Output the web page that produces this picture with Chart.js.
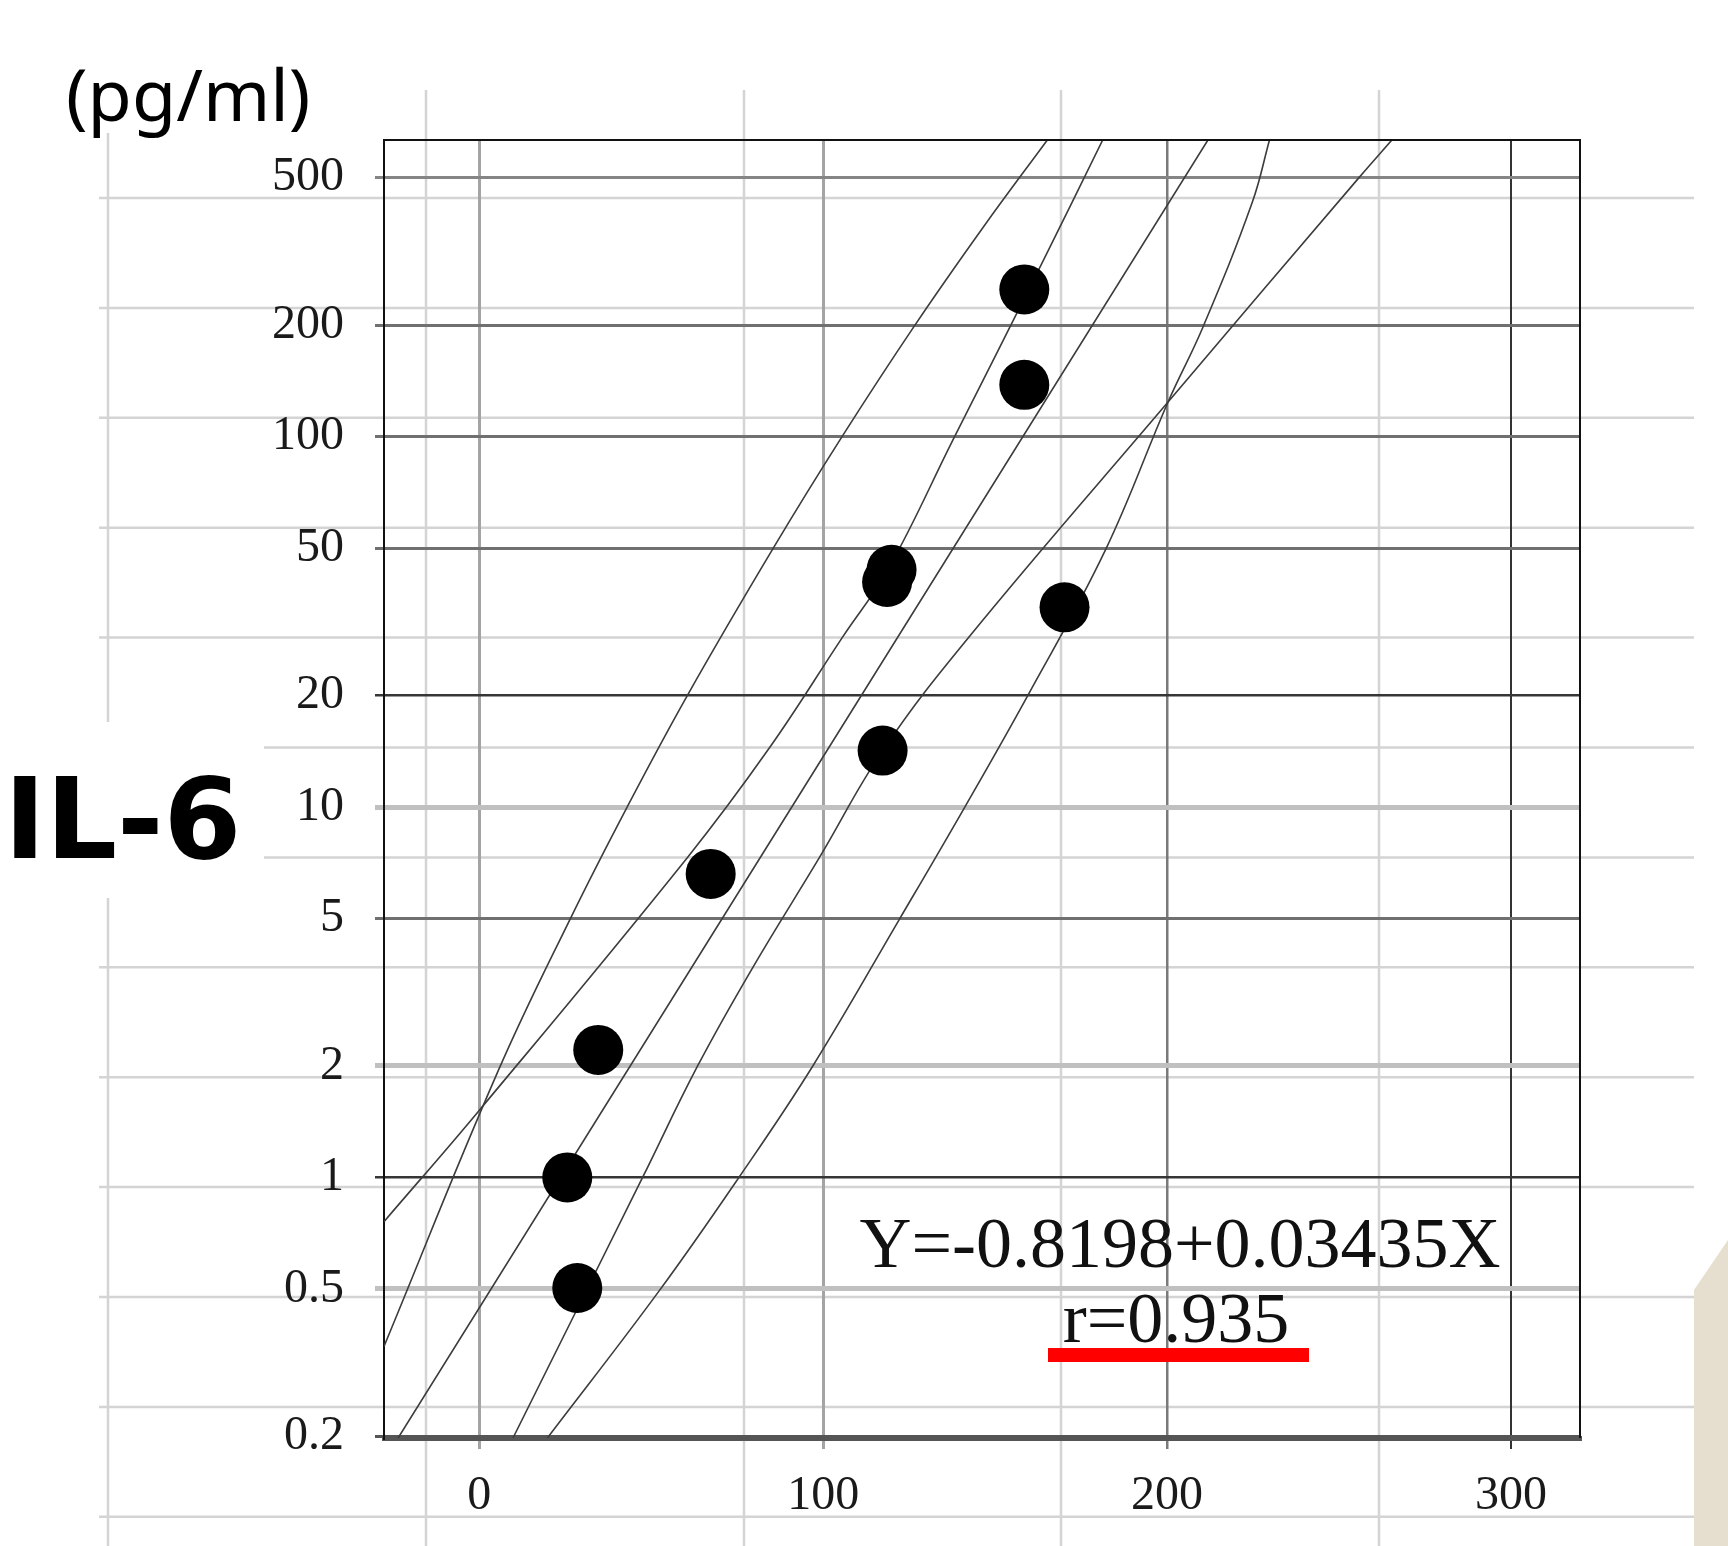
<!DOCTYPE html>
<html>
<head>
<meta charset="utf-8">
<title>IL-6</title>
<script src="https://cdn.jsdelivr.net/npm/chart.js@4.4.1/dist/chart.umd.min.js"></script>
<style>
  html, body { margin: 0; padding: 0; background: #fff; }
  canvas { display: block; }
</style>
</head>
<body>
<canvas id="chart" width="1728" height="1546"></canvas>
<script>
// tick labels
const xTicks = [0, 100, 200, 300];
const yTicks = [0.2, 0.5, 1, 2, 5, 10, 20, 50, 100, 200, 500];

// measured points (x, pg/ml)
const pointX = [158.5, 158.5, 119.9, 118.6, 170.2, 117.3, 67.3, 34.6, 25.6, 28.5];
const pointY = [249.6, 138, 43.7, 40.5, 34.6, 14.2, 6.6, 2.21, 1.0, 0.503];

// regression line, read where it meets the frame
const regX = [-23.6, 211.9];
const regY = [0.198, 632];

// the four band curves, read where they cross the gridlines
const bandAX = [-27.7, 5.4, 26.5, 43, 60.5, 85.5, 105.5, 126.7, 146.5, 165.2];
const bandAY = [0.35, 1.93, 5, 10, 20, 50, 100, 200, 367, 632];

const bandBX = [-27.7, -0.2, 60.5, 84.4, 105.6, 119, 137.9, 163.5, 181.3];
const bandBY = [0.76, 1.51, 7.3, 14.45, 28.7, 44, 98.6, 292, 632];

const bandCX = [9.8, 47.5, 63.5, 79.4, 98.9, 117.3, 142.3, 200.3, 255.9, 265.4];
const bandCY = [0.198, 1.0, 2, 3.67, 7.3, 14.2, 28.7, 124, 501, 632];

const bandDX = [19.8, 52.1, 75.5, 97, 122.3, 141.2, 159.5, 182, 200.3, 210.5, 224.8, 229.8];
const bandDY = [0.198, 0.491, 1.0, 2, 5, 10, 20, 49.2, 124, 198, 429, 632];

function pairs(xs, ys) {
    return xs.map(function (x, i) { return { x: x, y: ys[i] }; });
}

function curve(xs, ys) {
    return {
        data: pairs(xs, ys),
        showLine: true,
        borderColor: '#3c3c3c',
        borderWidth: 1.6,
        pointRadius: 0,
        pointHoverRadius: 0,
        tension: 0.4,
        fill: false
    };
}

// gridline look of the scanned chart, by tick value
function yGrid(v) {
    if (v === 0.5 || v === 2 || v === 10) return ['#c0c0c0', 5];
    if (v === 1 || v === 20) return ['#363636', 2.5];
    if (v === 0.2) return ['#555', 3];
    if (v === 500) return ['#858585', 3];
    return ['#707070', 3];
}

function xGrid(v) {
    if (v === 300) return ['#333', 2];
    if (v === 200) return ['#7a7a7a', 2.5];
    return ['#a4a4a4', 3];
}

// spreadsheet rulings behind the pasted chart
const paper = {
    id: 'paper',
    beforeDraw: function (chart) {
        let c = chart.ctx;
        c.save();
        c.fillStyle = '#fff';
        c.fillRect(0, 0, chart.width, chart.height);

        c.strokeStyle = '#d4d4d4';
        c.lineWidth = 2.5;
        c.beginPath();
        for (let i = 0; i < 13; i++) {
            let y = 198 + i * 109.9;
            c.moveTo(99, y);
            c.lineTo(1694, y);
        }
        [108, 426, 744, 1061, 1379].forEach(function (x) {
            c.moveTo(x, 90);
            c.lineTo(x, 1546);
        });
        c.stroke();

        // white boxes under the two labels
        c.fillStyle = '#fff';
        c.fillRect(0, 722, 264, 176);
        c.fillRect(55, 84, 270, 49);

        // paper edge at the lower right
        c.fillStyle = '#e6dfcf';
        c.beginPath();
        c.moveTo(1694, 1290);
        c.lineTo(1728, 1240);
        c.lineTo(1728, 1546);
        c.lineTo(1694, 1546);
        c.closePath();
        c.fill();
        c.restore();
    }
};

const notes = {
    id: 'notes',
    afterDatasetsDraw: function (chart) {
        let c = chart.ctx, a = chart.chartArea;
        c.save();
        c.strokeStyle = '#111';
        c.lineWidth = 2;
        c.beginPath();
        c.moveTo(a.left, a.top);
        c.lineTo(a.right, a.top);
        c.lineTo(a.right, a.bottom);
        c.stroke();
        c.restore();
    },
    afterDraw: function (chart) {
        let c = chart.ctx;
        c.save();
        c.textBaseline = 'alphabetic';
        c.fillStyle = '#000';
        c.font = '72px "Noto Sans"';
        c.fillText('(pg/ml)', 66, 121);
        c.font = 'bold 112px "DejaVu Sans"';
        c.fillText('IL-6', 4, 858);

        c.textAlign = 'center';
        c.fillStyle = '#111';
        c.font = '72px "Liberation Serif"';
        c.fillText('Y=-0.8198+0.03435X', 1180, 1267);
        c.fillText('r=0.935', 1176, 1342);

        c.fillStyle = '#ff0000';
        c.fillRect(1048, 1348, 261, 14);
        c.restore();
    }
};

new Chart(document.getElementById('chart'), {
    type: 'scatter',
    data: {
        datasets: [
            {
                data: pairs(pointX, pointY),
                pointRadius: 25,
                pointHoverRadius: 25,
                pointBackgroundColor: '#000',
                pointBorderWidth: 0
            },
            curve(regX, regY),
            curve(bandAX, bandAY),
            curve(bandBX, bandBY),
            curve(bandCX, bandCY),
            curve(bandDX, bandDY)
        ]
    },
    options: {
        responsive: false,
        devicePixelRatio: 1,
        animation: false,
        events: [],
        layout: { padding: { top: 140, right: 148, left: 0, bottom: 0 } },
        plugins: {
            legend: { display: false },
            tooltip: { enabled: false }
        },
        scales: {
            x: {
                type: 'linear',
                min: -27.7,
                max: 320.1,
                afterBuildTicks: function (s) {
                    s.ticks = xTicks.map(function (v) { return { value: v }; });
                },
                afterFit: function (s) { s.height = 108; },
                grid: {
                    color: function (ctx) { return xGrid(ctx.tick && ctx.tick.value)[0]; },
                    lineWidth: function (ctx) { return xGrid(ctx.tick && ctx.tick.value)[1]; },
                    tickLength: 11
                },
                border: { display: true, color: '#555', width: 5 },
                ticks: {
                    autoSkip: false,
                    maxRotation: 0,
                    padding: 19,
                    color: '#1a1a1a',
                    font: { family: '"Liberation Serif"', size: 48 },
                    callback: function (v) { return String(v); }
                }
            },
            y: {
                type: 'logarithmic',
                min: 0.198,
                max: 632,
                afterBuildTicks: function (s) {
                    s.ticks = yTicks.map(function (v) { return { value: v }; });
                },
                afterFit: function (s) { s.width = 384; },
                grid: {
                    color: function (ctx) { return yGrid(ctx.tick && ctx.tick.value)[0]; },
                    lineWidth: function (ctx) { return yGrid(ctx.tick && ctx.tick.value)[1]; },
                    tickLength: 9
                },
                border: { display: true, color: '#111', width: 2 },
                ticks: {
                    autoSkip: false,
                    padding: 31,
                    color: '#1a1a1a',
                    font: { family: '"Liberation Serif"', size: 48 },
                    callback: function (v) { return String(v); }
                }
            }
        }
    },
    plugins: [paper, notes]
});
</script>
</body>
</html>
